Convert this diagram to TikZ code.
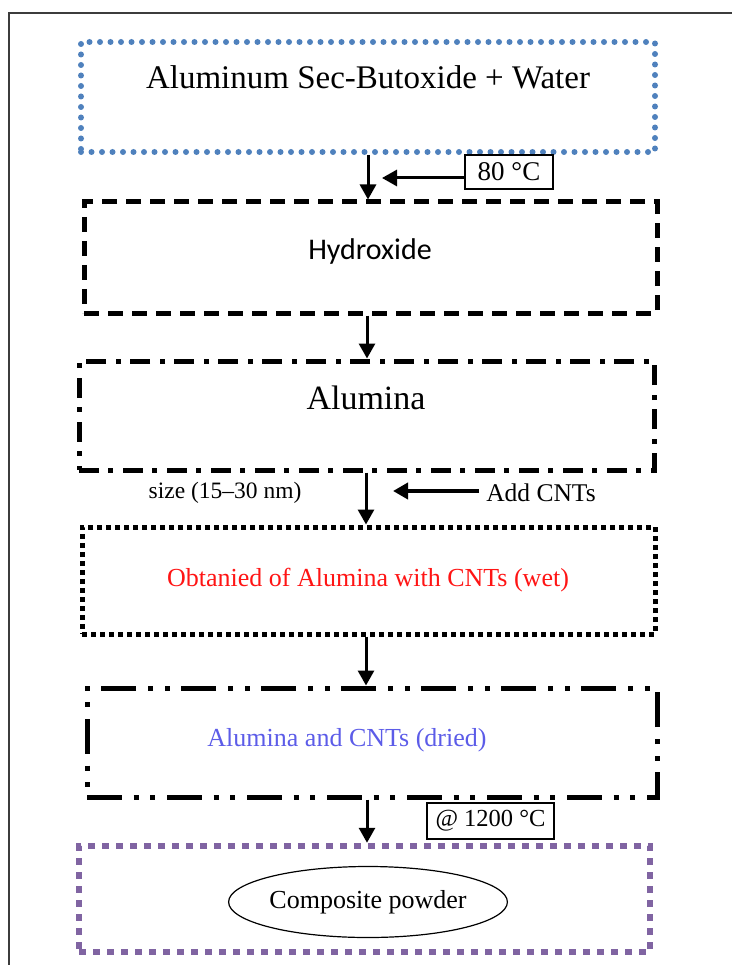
\documentclass[tikz,border=0pt]{standalone}
\usepackage{fontspec}
\setmainfont{Liberation Serif}
\newfontfamily\calibri{Carlito}
\usetikzlibrary{arrows.meta,shapes.geometric}

\definecolor{boxblue}{HTML}{4F81BD}
\definecolor{boxpurple}{HTML}{8064A2}
\definecolor{wetred}{RGB}{255,20,20}
\definecolor{driedblue}{RGB}{92,92,232}
\definecolor{framegray}{RGB}{60,60,60}

\tikzset{
  stage/.style={draw, rectangle, inner sep=0pt},
  bluedots/.style={stage, draw=boxblue, line width=6pt, line cap=round, dash pattern=on 0pt off 10.5pt},
  blackdash/.style={stage, line width=5pt, dash pattern=on 15pt off 9pt},
  dashdot/.style={stage, line width=5pt, dash pattern=on 20pt off 9pt on 5pt off 10pt},
  squaredots/.style={stage, line width=5pt, dash pattern=on 5pt off 4pt},
  dashdotdot/.style={stage, line width=5pt, dash pattern=on 35pt off 11.5pt on 5pt off 11.5pt on 5pt off 12pt},
  purpledots/.style={stage, draw=boxpurple, line width=6.5pt, dash pattern=on 7pt off 7pt},
  flow/.style={line width=3pt, -{Triangle[length=15pt,width=16pt]}},
  tag/.style={draw, line width=1.5pt, inner sep=0pt},
}

\begin{document}
\begin{tikzpicture}[x=1pt,y=-1pt]
\useasboundingbox (0,0) rectangle (731,965);

% outer frame (runs off the page on the right and bottom)
\draw[framegray, line width=2pt] (9,980) -- (9,13) -- (745,13);

% process stages
\node[bluedots, minimum width=574pt, minimum height=110pt] (b1) at (368,97) {};
\node (t1) at (368,77) {\fontsize{33}{36}\selectfont Aluminum Sec-Butoxide + Water};

\node[blackdash, minimum width=573pt, minimum height=111pt] (b2) at (370.5,257.5) {};
\node (t2) at (370,252) {\calibri\fontsize{30}{34}\selectfont Hydroxide};

\node[dashdot, minimum width=575pt, minimum height=109pt] (b3) at (366.5,415.5) {};
\node (t3) at (366,398) {\fontsize{34}{38}\selectfont Alumina};

\node[squaredots, minimum width=573pt, minimum height=107pt] (b4) at (368.5,580.5) {};
\node[text=wetred] (t4) at (368,580) {\fontsize{26}{30}\selectfont Obtanied of Alumina with CNTs (wet)};

\node[dashdotdot, minimum width=570pt, minimum height=109pt] (b5) at (372,742.5) {};
\node[text=driedblue] (t5) at (347,740) {\fontsize{26}{30}\selectfont Alumina and CNTs (dried)};

\node[purpledots, minimum width=571pt, minimum height=106pt] (b6) at (364.5,899) {};
\node[draw, ellipse, line width=1.2pt, minimum width=232pt, minimum height=71pt, inner sep=0pt] (t6) at (368,902) {\fontsize{26}{30}\selectfont Composite powder};

% conditions
\node[tag, minimum width=88pt, minimum height=34pt] (heat) at (509,172) {\fontsize{27}{30}\selectfont 80 °C};
\node[tag, minimum width=127pt, minimum height=36pt] (calc) at (490.5,821) {\fontsize{24.5}{28}\selectfont @ 1200 °C};
\node (size) at (225,493) {\fontsize{23.5}{27}\selectfont size (15–30 nm)};
\node (cnt) at (541,493) {\fontsize{25.5}{29}\selectfont Add CNTs};
\coordinate (heatin) at (382,178);
\coordinate (cntin) at (393,491);
\coordinate (cntout) at (479,491);

% flow arrows
\draw[flow] (b1.south) -- (b1.south |- b2.north);
\draw[flow] (heat.west |- heatin) -- (heatin);
\draw[flow] (b2.south -| 367,0) -- (b3.north -| 367,0);
\draw[flow] (b3.south -| 366,0) -- (b4.north -| 366,0);
\draw[flow, line width=4pt] (cntout) -- (cntin);
\draw[flow] (b4.south -| 366,0) -- (b5.north -| 366,0);
\draw[flow] (b5.south -| 367,0) -- (b6.north -| 367,0);
\end{tikzpicture}
\end{document}
